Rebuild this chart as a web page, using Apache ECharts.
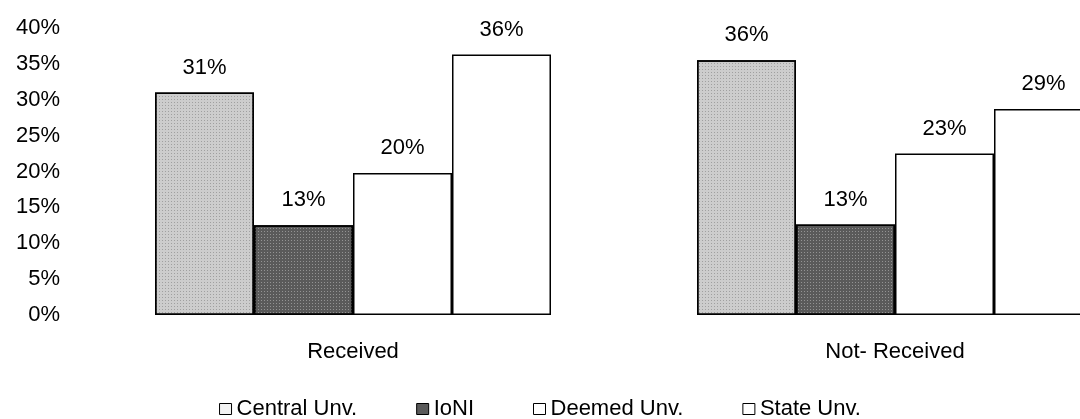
<!DOCTYPE html>
<html>
<head>
<meta charset="utf-8">
<script src="https://cdn.jsdelivr.net/npm/echarts@6/dist/echarts.min.js"></script>
<style>
html,body{margin:0;padding:0;background:#fff;}
#chart{width:1080px;height:419px;}
</style>
</head>
<body>
<div id="chart"></div>
<script>
const categories = ['Received', 'Not- Received'];
const seriesNames = ['Central Unv.', 'IoNI', 'Deemed Unv.', 'State Unv.'];
const centralUnv = [31, 35.5];
const ioni = [12.5, 12.6];
const deemedUnv = [19.8, 22.5];
const stateUnv = [36.3, 28.7];
const yTicks = [0, 5, 10, 15, 20, 25, 30, 35, 40];

const font = 'Arial, "Liberation Sans", sans-serif';
const fills = ['#cdcdcd', '#5a5a5a', '#ffffff', '#ffffff'];
const decals = [
  { symbol: 'rect', symbolSize: 1, color: 'rgba(0,0,0,0.22)', dashArrayX: [1, 2], dashArrayY: [1, 2] },
  { symbol: 'rect', symbolSize: 1, color: 'rgba(255,255,255,0.35)', dashArrayX: [1, 2], dashArrayY: [1, 2] },
  null, null
];
const values = [centralUnv, ioni, deemedUnv, stateUnv];

const chart = echarts.init(document.getElementById('chart'));
chart.setOption({
  animation: false,
  backgroundColor: '#fff',
  textStyle: { fontFamily: font },
  grid: { left: 82, top: 28, right: -86, bottom: 104, containLabel: false, outerBoundsMode: 'none' },
  legend: {
    top: 393,
    left: 'center',
    icon: 'rect',
    itemWidth: 12,
    itemHeight: 11,
    itemGap: 59,
    textStyle: { fontFamily: font, fontSize: 22, color: '#000' },
    data: seriesNames.map((n, i) => ({
      name: n,
      itemStyle: { color: i === 0 ? '#f2f2f2' : fills[i], borderColor: '#000', borderWidth: 1, decal: 'none' }
    }))
  },
  xAxis: {
    type: 'category',
    data: categories,
    axisLine: { show: false },
    axisTick: { show: false },
    axisLabel: { margin: 26, fontSize: 22, color: '#000', fontFamily: font }
  },
  yAxis: {
    type: 'value',
    min: yTicks[0],
    max: yTicks[yTicks.length - 1],
    interval: 5,
    axisLine: { show: false },
    axisTick: { show: false },
    splitLine: { show: false },
    axisLabel: { margin: 22, fontSize: 22, color: '#000', fontFamily: font, formatter: '{value}%' }
  },
  series: seriesNames.map((n, i) => ({
    name: n,
    type: 'bar',
    data: values[i],
    barWidth: 99,
    barGap: '0%',
    itemStyle: Object.assign(
      { color: fills[i], borderColor: '#000', borderWidth: 1.5 },
      decals[i] ? { decal: decals[i] } : {}
    ),
    label: {
      show: true,
      position: 'top',
      distance: 14,
      fontSize: 22,
      color: '#000',
      fontFamily: font,
      formatter: p => Math.round(p.value) + '%'
    }
  }))
});
</script>
</body>
</html>
